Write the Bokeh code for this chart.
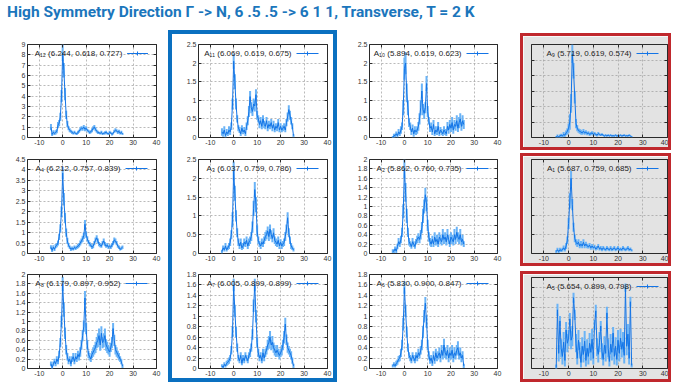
import numpy as np
from bokeh.plotting import figure
from bokeh.models import (Range1d, FixedTicker, PrintfTickFormatter, CustomJSTickFormatter,
                          LinearAxis, Label, Div)
from bokeh.layouts import column, row
from bokeh.embed import file_html
from bokeh.resources import INLINE

# ---------------- data ----------------
X = [-5, -4.5, -4, -3.5, -3, -2.5, -2, -1.5, -1, -0.5,
     0, 0.5, 1, 1.5, 2, 2.5, 3, 3.5, 4, 4.5,
     5, 5.5, 6, 6.5, 7, 7.5, 8, 8.5, 9, 9.5,
     10, 10.5, 11, 11.5, 12, 12.5, 13, 13.5, 14, 14.5,
     15, 15.5, 16, 16.5, 17, 17.5, 18, 18.5, 19, 19.5,
     20, 20.5, 21, 21.5, 22, 22.5, 23, 23.5, 24, 24.5,
     25, 25.5]

X_TICKS = [-10, 0, 10, 20, 30, 40]
TICKS_9 = [0, 1, 2, 3, 4, 5, 6, 7, 8, 9]
TICKS_6 = [0, 1, 2, 3, 4, 5, 6]
TICKS_45 = [0, 0.5, 1, 1.5, 2, 2.5, 3, 3.5, 4, 4.5]
TICKS_25 = [0, 0.5, 1, 1.5, 2, 2.5]
TICKS_2 = [0, 0.2, 0.4, 0.6, 0.8, 1, 1.2, 1.4, 1.6, 1.8, 2]
TICKS_18 = [0, 0.2, 0.4, 0.6, 0.8, 1, 1.2, 1.4, 1.6, 1.8]

TITLE = "High Symmetry Direction Γ -&gt; N, 6 .5 .5 -&gt; 6 1 1, Transverse, T = 2 K"

LAB_A12 = "A₁₂ (6.244, 0.618, 0.727)"
LAB_A11 = "A₁₁ (6.069, 0.619, 0.675)"
LAB_A10 = "A₁₀ (5.894, 0.619, 0.623)"
LAB_A9 = "A₉ (5.719, 0.619, 0.574)"
LAB_A4 = "A₄ (6.212, 0.757, 0.839)"
LAB_A3 = "A₃ (6.037, 0.759, 0.786)"
LAB_A2 = "A₂ (5.862, 0.760, 0.735)"
LAB_A1 = "A₁ (5.687, 0.759, 0.685)"
LAB_A8 = "A₈ (6.179, 0.897, 0.952)"
LAB_A7 = "A₇ (6.005, 0.899, 0.899)"
LAB_A6 = "A₆ (5.830, 0.900, 0.847)"
LAB_A5 = "A₅ (5.654, 0.899, 0.798)"

A12 = [1.0, 0.3, 0.5, 0.4, 0.5, 0.6, 1.2, 1.4, 2.0, 4.0,
       8.2, 6.5, 4.2, 2.2, 1.3, 0.9, 0.7, 0.6, 0.5, 0.4,
       0.5, 0.4, 0.35, 0.5, 0.6, 0.8, 0.9, 0.85, 1.0, 0.8,
       0.9, 0.7, 0.6, 0.5, 0.55, 0.7, 0.9, 1.0, 0.8, 0.6,
       0.5, 0.45, 0.4, 0.5, 0.35, 0.4, 0.45, 0.5, 0.4, 0.35,
       0.5, 0.45, 0.3, 0.4, 0.6, 0.7, 0.65, 0.5, 0.6, 0.4,
       0.5, 0.35]
E12 = [0.3, 0.15, 0.2, 0.15, 0.2, 0.2, 0.3, 0.3, 0.4, 0.6,
       0.8, 0.7, 0.6, 0.4, 0.3, 0.2, 0.2, 0.15, 0.15, 0.1,
       0.15, 0.1, 0.1, 0.15, 0.15, 0.2, 0.2, 0.2, 0.2, 0.2,
       0.2, 0.15, 0.15, 0.15, 0.15, 0.2, 0.2, 0.2, 0.2, 0.15,
       0.15, 0.1, 0.1, 0.15, 0.1, 0.1, 0.15, 0.15, 0.1, 0.1,
       0.15, 0.1, 0.1, 0.1, 0.15, 0.2, 0.15, 0.15, 0.15, 0.1,
       0.15, 0.1]

A11 = [0.15, 0.1, 0.2, 0.05, 0.15, 0.1, 0.2, 0.15, 0.3, 0.9,
       2.05, 1.5, 0.9, 0.5, 0.25, 0.2, 0.1, 0.25, 0.15, 0.2,
       0.1, 0.3, 0.45, 0.7, 1.1, 0.8, 0.7, 0.9, 0.85, 1.15,
       0.6, 0.5, 0.35, 0.45, 0.3, 0.5, 0.35, 0.3, 0.45, 0.25,
       0.35, 0.3, 0.4, 0.25, 0.35, 0.2, 0.3, 0.25, 0.4, 0.2,
       0.3, 0.2, 0.25, 0.3, 0.2, 0.4, 0.55, 0.75, 0.6, 0.45,
       0.3, 0.05]
E11 = [0.1, 0.08, 0.1, 0.05, 0.08, 0.06, 0.1, 0.08, 0.1, 0.15,
       0.2, 0.2, 0.15, 0.1, 0.08, 0.08, 0.06, 0.08, 0.06, 0.08,
       0.06, 0.1, 0.12, 0.15, 0.15, 0.15, 0.12, 0.15, 0.15, 0.15,
       0.12, 0.1, 0.1, 0.1, 0.08, 0.1, 0.1, 0.08, 0.1, 0.08,
       0.1, 0.08, 0.1, 0.08, 0.1, 0.06, 0.08, 0.08, 0.1, 0.06,
       0.08, 0.06, 0.08, 0.08, 0.06, 0.1, 0.12, 0.12, 0.12, 0.1,
       0.08, 0.04]

A10 = [0.0, 0.05, 0.05, 0.1, 0.05, 0.15, 0.1, 0.2, 0.3, 0.8,
       1.85, 2.0, 1.2, 0.8, 0.4, 0.3, 0.15, 0.25, 0.1, 0.2,
       0.15, 0.2, 0.3, 0.5, 0.8, 1.25, 0.75, 0.65, 0.8, 1.45,
       0.7, 0.45, 0.25, 0.3, 0.15, 0.35, 0.1, 0.2, 0.15, 0.3,
       0.1, 0.2, 0.15, 0.1, 0.2, 0.15, 0.1, 0.3, 0.2, 0.35,
       0.25, 0.4, 0.2, 0.35, 0.3, 0.45, 0.25, 0.4, 0.5, 0.3,
       0.45, 0.35]
E10 = [0.04, 0.05, 0.05, 0.06, 0.05, 0.08, 0.06, 0.1, 0.1, 0.2,
       0.3, 0.3, 0.25, 0.2, 0.12, 0.1, 0.08, 0.1, 0.08, 0.1,
       0.08, 0.1, 0.12, 0.15, 0.2, 0.2, 0.15, 0.15, 0.15, 0.2,
       0.15, 0.1, 0.1, 0.1, 0.08, 0.12, 0.06, 0.1, 0.08, 0.12,
       0.06, 0.08, 0.08, 0.06, 0.1, 0.08, 0.06, 0.12, 0.1, 0.12,
       0.1, 0.15, 0.1, 0.12, 0.12, 0.15, 0.1, 0.15, 0.15, 0.12,
       0.15, 0.12]

A9 = [0.05, 0.1, 0.05, 0.1, 0.15, 0.1, 0.2, 0.15, 0.3, 0.4,
      0.6, 1.0, 2.2, 5.4, 4.3, 2.6, 0.9, 0.6, 0.45, 0.4,
      0.35, 0.3, 0.4, 0.3, 0.35, 0.25, 0.3, 0.2, 0.25, 0.3,
      0.2, 0.25, 0.2, 0.15, 0.25, 0.2, 0.15, 0.2, 0.15, 0.1,
      0.15, 0.1, 0.15, 0.1, 0.15, 0.1, 0.12, 0.1, 0.15, 0.1,
      0.12, 0.1, 0.15, 0.1, 0.12, 0.15, 0.1, 0.12, 0.1, 0.15,
      0.1, 0.05]
E9 = [0.05, 0.1, 0.05, 0.1, 0.1, 0.1, 0.15, 0.1, 0.15, 0.2,
      0.3, 0.5, 0.6, 0.6, 0.5, 0.4, 0.3, 0.2, 0.15, 0.15,
      0.15, 0.12, 0.15, 0.12, 0.12, 0.1, 0.1, 0.1, 0.1, 0.1,
      0.08, 0.1, 0.08, 0.08, 0.1, 0.08, 0.06, 0.08, 0.06, 0.06,
      0.06, 0.05, 0.06, 0.05, 0.06, 0.05, 0.05, 0.05, 0.06, 0.05,
      0.05, 0.05, 0.06, 0.05, 0.05, 0.06, 0.05, 0.05, 0.05, 0.06,
      0.05, 0.04]

A4 = [0.3, 0.15, 0.3, 0.2, 0.35, 0.4, 0.5, 0.8, 1.2, 2.0,
      3.85, 2.6, 1.7, 1.0, 0.6, 0.4, 0.3, 0.2, 0.25, 0.2,
      0.3, 0.25, 0.3, 0.35, 0.4, 0.5, 0.6, 0.7, 0.85, 1.4,
      0.9, 0.7, 0.55, 0.45, 0.4, 0.3, 0.35, 0.5, 0.65, 0.75,
      0.6, 0.45, 0.4, 0.35, 0.5, 0.6, 0.45, 0.35, 0.4, 0.3,
      0.35, 0.3, 0.4, 0.5, 0.65, 0.6, 0.5, 0.35, 0.3, 0.2,
      0.25, 0.3]
E4 = [0.1, 0.08, 0.1, 0.08, 0.1, 0.1, 0.12, 0.15, 0.2, 0.25,
      0.3, 0.3, 0.25, 0.2, 0.15, 0.1, 0.08, 0.08, 0.08, 0.06,
      0.08, 0.08, 0.08, 0.1, 0.1, 0.12, 0.12, 0.15, 0.15, 0.2,
      0.15, 0.12, 0.1, 0.1, 0.1, 0.08, 0.1, 0.1, 0.12, 0.12,
      0.12, 0.1, 0.1, 0.08, 0.1, 0.12, 0.1, 0.08, 0.1, 0.08,
      0.08, 0.08, 0.1, 0.1, 0.12, 0.12, 0.1, 0.08, 0.08, 0.06,
      0.08, 0.08]

A3 = [0.05, 0.15, 0.1, 0.2, 0.1, 0.15, 0.2, 0.3, 0.5, 0.9,
      2.2, 1.6, 1.0, 0.55, 0.3, 0.2, 0.3, 0.15, 0.2, 0.3,
      0.25, 0.35, 0.2, 0.3, 0.35, 0.45, 0.7, 1.2, 1.7, 1.3,
      0.6, 0.35, 0.25, 0.2, 0.3, 0.25, 0.35, 0.45, 0.5, 0.6,
      0.45, 0.65, 0.5, 0.4, 0.55, 0.35, 0.3, 0.25, 0.35, 0.2,
      0.3, 0.2, 0.25, 0.3, 0.45, 0.65, 0.95, 0.55, 0.35, 0.2,
      0.15, 0.1]
E3 = [0.05, 0.06, 0.05, 0.08, 0.05, 0.06, 0.08, 0.1, 0.12, 0.2,
      0.25, 0.2, 0.15, 0.12, 0.1, 0.08, 0.1, 0.06, 0.08, 0.1,
      0.08, 0.1, 0.08, 0.1, 0.1, 0.12, 0.15, 0.2, 0.2, 0.2,
      0.15, 0.1, 0.08, 0.08, 0.1, 0.08, 0.1, 0.12, 0.12, 0.12,
      0.12, 0.12, 0.12, 0.1, 0.12, 0.1, 0.1, 0.08, 0.1, 0.08,
      0.08, 0.08, 0.08, 0.1, 0.12, 0.12, 0.15, 0.12, 0.1, 0.08,
      0.06, 0.05]

A2 = [0.05, 0.05, 0.1, 0.05, 0.15, 0.25, 0.2, 0.3, 0.45, 0.9,
      1.8, 1.3, 0.8, 0.45, 0.25, 0.2, 0.15, 0.25, 0.2, 0.15,
      0.25, 0.3, 0.35, 0.3, 0.4, 0.55, 0.8, 1.0, 1.25, 1.05,
      0.6, 0.35, 0.25, 0.2, 0.3, 0.2, 0.35, 0.25, 0.3, 0.2,
      0.35, 0.3, 0.25, 0.4, 0.3, 0.35, 0.25, 0.4, 0.3, 0.2,
      0.35, 0.3, 0.25, 0.4, 0.3, 0.45, 0.35, 0.3, 0.4, 0.25,
      0.3, 0.2]
E2 = [0.04, 0.04, 0.05, 0.04, 0.06, 0.08, 0.06, 0.08, 0.1, 0.15,
      0.2, 0.2, 0.15, 0.1, 0.08, 0.06, 0.05, 0.08, 0.06, 0.05,
      0.06, 0.08, 0.08, 0.08, 0.1, 0.12, 0.15, 0.15, 0.15, 0.15,
      0.12, 0.1, 0.08, 0.06, 0.08, 0.06, 0.1, 0.08, 0.1, 0.06,
      0.1, 0.1, 0.08, 0.12, 0.1, 0.1, 0.08, 0.12, 0.1, 0.06,
      0.1, 0.1, 0.08, 0.12, 0.1, 0.12, 0.1, 0.1, 0.12, 0.08,
      0.1, 0.06]

A1 = [0.05, 0.1, 0.05, 0.1, 0.08, 0.1, 0.15, 0.1, 0.2, 0.35,
      0.8, 1.4, 2.0, 1.3, 0.7, 0.4, 0.3, 0.25, 0.3, 0.2,
      0.25, 0.2, 0.3, 0.2, 0.25, 0.2, 0.18, 0.22, 0.15, 0.2,
      0.15, 0.18, 0.12, 0.15, 0.2, 0.12, 0.15, 0.1, 0.15, 0.12,
      0.1, 0.15, 0.12, 0.1, 0.15, 0.1, 0.12, 0.15, 0.1, 0.12,
      0.15, 0.1, 0.12, 0.1, 0.15, 0.12, 0.1, 0.12, 0.15, 0.1,
      0.12, 0.08]
E1 = [0.04, 0.05, 0.04, 0.05, 0.04, 0.05, 0.06, 0.05, 0.08, 0.1,
      0.15, 0.2, 0.2, 0.15, 0.12, 0.1, 0.08, 0.08, 0.08, 0.06,
      0.08, 0.06, 0.08, 0.06, 0.06, 0.06, 0.05, 0.06, 0.05, 0.05,
      0.05, 0.05, 0.04, 0.05, 0.05, 0.04, 0.05, 0.04, 0.05, 0.04,
      0.04, 0.05, 0.04, 0.04, 0.05, 0.04, 0.04, 0.05, 0.04, 0.04,
      0.05, 0.04, 0.04, 0.04, 0.05, 0.04, 0.04, 0.04, 0.05, 0.04,
      0.04, 0.03]

A8 = [0.1, 0.02, 0.1, 0.15, 0.1, 0.2, 0.15, 0.3, 0.55, 1.0,
      1.8, 1.25, 0.75, 0.4, 0.25, 0.15, 0.2, 0.1, 0.2, 0.25,
      0.15, 0.25, 0.2, 0.3, 0.25, 0.35, 0.5, 0.7, 0.9, 1.5,
      0.85, 0.5, 0.3, 0.25, 0.2, 0.3, 0.35, 0.4, 0.45, 0.55,
      0.6, 0.7, 0.5, 0.75, 0.55, 0.6, 0.7, 0.5, 0.45, 0.4,
      0.35, 0.45, 0.55, 0.85, 0.6, 0.4, 0.35, 0.3, 0.25, 0.2,
      0.15, 0.05]
E8 = [0.05, 0.03, 0.05, 0.06, 0.05, 0.06, 0.06, 0.08, 0.1, 0.12,
      0.15, 0.15, 0.12, 0.1, 0.08, 0.06, 0.06, 0.05, 0.06, 0.08,
      0.06, 0.08, 0.06, 0.08, 0.08, 0.1, 0.1, 0.12, 0.12, 0.15,
      0.12, 0.1, 0.08, 0.08, 0.06, 0.08, 0.1, 0.1, 0.12, 0.12,
      0.15, 0.15, 0.12, 0.15, 0.12, 0.15, 0.15, 0.12, 0.12, 0.1,
      0.1, 0.1, 0.12, 0.12, 0.12, 0.1, 0.1, 0.08, 0.08, 0.06,
      0.06, 0.04]

A7 = [0.05, 0.02, 0.08, 0.05, 0.1, 0.12, 0.15, 0.2, 0.35, 0.7,
      1.6, 1.1, 0.7, 0.4, 0.2, 0.15, 0.25, 0.1, 0.2, 0.15,
      0.25, 0.2, 0.15, 0.25, 0.3, 0.4, 0.65, 1.2, 1.6, 1.0,
      0.5, 0.3, 0.2, 0.25, 0.15, 0.3, 0.2, 0.3, 0.35, 0.45,
      0.5, 0.6, 0.45, 0.5, 0.4, 0.35, 0.3, 0.35, 0.3, 0.25,
      0.3, 0.35, 0.45, 0.6, 0.85, 0.55, 0.4, 0.35, 0.3, 0.25,
      0.15, 0.05]
E7 = [0.03, 0.02, 0.04, 0.03, 0.05, 0.05, 0.06, 0.06, 0.08, 0.1,
      0.12, 0.12, 0.1, 0.08, 0.06, 0.05, 0.06, 0.04, 0.06, 0.05,
      0.06, 0.06, 0.05, 0.06, 0.08, 0.08, 0.1, 0.12, 0.12, 0.12,
      0.1, 0.08, 0.06, 0.06, 0.05, 0.08, 0.06, 0.08, 0.08, 0.1,
      0.12, 0.12, 0.1, 0.12, 0.1, 0.1, 0.08, 0.1, 0.08, 0.08,
      0.08, 0.1, 0.1, 0.12, 0.12, 0.1, 0.1, 0.08, 0.08, 0.08,
      0.06, 0.04]

A6 = [0.05, 0.08, 0.05, 0.1, 0.12, 0.18, 0.2, 0.3, 0.45, 0.85,
      1.55, 1.1, 0.7, 0.4, 0.25, 0.2, 0.15, 0.25, 0.2, 0.15,
      0.25, 0.2, 0.3, 0.25, 0.35, 0.45, 0.7, 1.0, 1.25, 0.9,
      0.45, 0.25, 0.15, 0.2, 0.1, 0.25, 0.15, 0.3, 0.2, 0.25,
      0.3, 0.2, 0.35, 0.25, 0.45, 0.3, 0.25, 0.35, 0.2, 0.3,
      0.25, 0.35, 0.2, 0.3, 0.25, 0.35, 0.4, 0.25, 0.3, 0.2,
      0.25, 0.05]
E6 = [0.03, 0.04, 0.03, 0.05, 0.05, 0.06, 0.06, 0.08, 0.1, 0.12,
      0.12, 0.12, 0.1, 0.08, 0.06, 0.06, 0.05, 0.06, 0.06, 0.05,
      0.06, 0.06, 0.08, 0.06, 0.08, 0.1, 0.12, 0.12, 0.12, 0.12,
      0.1, 0.08, 0.06, 0.06, 0.05, 0.08, 0.06, 0.08, 0.06, 0.08,
      0.1, 0.08, 0.1, 0.08, 0.12, 0.1, 0.08, 0.1, 0.08, 0.1,
      0.08, 0.1, 0.08, 0.1, 0.08, 0.1, 0.12, 0.08, 0.1, 0.08,
      0.08, 0.04]

A5 = [0.1, 5.8, 1.5, 4.7, 2.0, 1.2, 2.6, 0.8, 3.8, 2.5,
      3.0, 4.9, 2.8, 3.2, 7.0, 5.3, 2.5, 1.0, 2.8, 1.8,
      0.6, 2.2, 1.4, 2.7, 0.8, 2.0, 1.2, 2.5, 1.6, 2.9,
      1.0, 4.3, 5.7, 2.1, 1.4, 2.6, 4.2, 1.7, 0.9, 2.3,
      1.5, 5.5, 2.0, 0.7, 2.4, 1.6, 3.5, 1.2, 2.2, 0.9,
      2.8, 1.5, 3.0, 1.9, 2.6, 1.3, 8.0, 2.2, 3.4, 1.0,
      6.6, 0.3]
E5 = [0.3, 0.6, 0.8, 0.5, 0.9, 0.8, 1.0, 0.6, 0.8, 0.9,
      0.8, 0.6, 0.9, 1.0, 0.5, 0.5, 0.9, 0.6, 1.0, 0.8,
      0.5, 0.9, 0.8, 1.0, 0.6, 0.9, 0.8, 1.0, 0.8, 1.0,
      0.6, 0.5, 0.6, 0.9, 0.8, 1.0, 0.5, 0.8, 0.6, 0.9,
      0.8, 0.6, 0.9, 0.5, 1.0, 0.8, 0.6, 0.8, 0.9, 0.6,
      1.0, 0.8, 0.9, 0.8, 1.0, 0.8, 0.4, 0.9, 1.0, 0.6,
      0.5, 0.2]

# ---------------- styling ----------------
LINE = "#1374e6"
ERR = "#6ab3f6"
TICK_FONT = "Liberation Sans"
BLANK = "return ''"
BLUE_BOX = "#0a70c0"
RED_BOX = "#c0282d"
GRAY = "#e3e3e3"


def panel(label, vals, errs, yticks, w, h, bl, br, bt, bb, gray=False, hide_y=False):
    ymax = yticks[-1]
    p = figure(width=w, height=h, x_range=Range1d(-15, 40), y_range=Range1d(0, ymax),
               output_backend="svg", toolbar_location=None, tools="",
               min_border_left=bl, min_border_right=br, min_border_top=bt, min_border_bottom=bb,
               margin=(0, 0, 0, 0))
    bg = GRAY if gray else "white"
    p.background_fill_color = bg
    p.border_fill_color = bg
    p.outline_line_color = "#2a2a2a"
    p.outline_line_width = 1

    v = np.array(vals, dtype=float)
    e = np.array(errs, dtype=float)
    p.segment(x0=X, y0=v - e, x1=X, y1=v + e, line_color=ERR, line_width=2)
    p.line(X, v, line_color=LINE, line_width=1)

    p.xaxis.ticker = FixedTicker(ticks=X_TICKS)
    p.yaxis.ticker = FixedTicker(ticks=yticks)
    p.xaxis.formatter = PrintfTickFormatter(format="%.3g")
    if hide_y:
        p.yaxis.formatter = CustomJSTickFormatter(code=BLANK)
    else:
        p.yaxis.formatter = PrintfTickFormatter(format="%.3g")
    for ax in (p.xaxis[0], p.yaxis[0]):
        ax.axis_line_color = None
        ax.major_tick_in = 3
        ax.major_tick_out = 0
        ax.minor_tick_line_color = None
        ax.major_tick_line_color = "#2a2a2a"
        ax.major_label_text_font = TICK_FONT
        ax.major_label_text_font_size = "7px"
        ax.major_label_text_color = "#333333"
        ax.major_label_standoff = 2
    # mirrored ticks on top/right like gnuplot
    for loc, tk in (("above", X_TICKS), ("right", yticks)):
        ax = LinearAxis(ticker=FixedTicker(ticks=tk), formatter=CustomJSTickFormatter(code=BLANK),
                        axis_line_color=None, major_tick_in=3, major_tick_out=0,
                        minor_tick_line_color=None, major_tick_line_color="#2a2a2a",
                        major_label_standoff=0, major_label_text_font_size="1px")
        p.add_layout(ax, loc)

    p.xgrid.ticker = FixedTicker(ticks=X_TICKS)
    p.ygrid.ticker = FixedTicker(ticks=yticks)
    p.grid.grid_line_color = "#9c9c9c"
    p.grid.grid_line_dash = "2 2"
    p.grid.grid_line_width = 0.7

    # legend (gnuplot style: text then sample on the right)
    fw = w - bl - br
    fh = h - bt - bb
    ux = 55.0 / fw
    uy = ymax / fh
    yl = ymax - 9 * uy
    p.add_layout(Label(x=40 - 36 * ux, y=yl, text=label, text_align="right",
                       text_baseline="middle", text_font=TICK_FONT, text_font_size="8px",
                       text_color="#222222"))
    p.line([40 - 31 * ux, 40 - 9 * ux], [yl, yl], line_color=LINE, line_width=1)
    p.segment(x0=[40 - 20 * ux], y0=[yl - 2 * uy], x1=[40 - 20 * ux], y1=[yl + 2 * uy],
              line_color=LINE, line_width=1)
    return p


def bar(w, h, color=None):
    st = {"background-color": color} if color else {}
    return Div(text="", width=w, height=h, margin=(0, 0, 0, 0), styles=st)


def red_box(fig, w, h):
    return column(bar(w + 6, 3, RED_BOX),
                  row(bar(3, h, RED_BOX), fig, bar(3, h, RED_BOX), spacing=0),
                  bar(w + 6, 3, RED_BOX), spacing=0)


# column 1  (rows: figure tops at 30, 148, 265)
p12 = panel(LAB_A12, A12, E12, TICKS_9, 168, 118, 20, 12, 14, 11)
p4 = panel(LAB_A4, A4, E4, TICKS_45, 168, 117, 27, 12, 11, 12)
p8 = panel(LAB_A8, A8, E8, TICKS_2, 168, 117, 27, 12, 9, 14)
# column 2 (inside blue box: 168..337 x 30..382)
p11 = panel(LAB_A11, A11, E11, TICKS_25, 161, 114, 26, 6, 10, 11)
p3 = panel(LAB_A3, A3, E3, TICKS_25, 161, 117, 26, 6, 11, 12)
p7 = panel(LAB_A7, A7, E7, TICKS_18, 161, 113, 26, 6, 9, 10)
# column 3
p10 = panel(LAB_A10, A10, E10, TICKS_25, 183, 118, 32, 23, 14, 11)
p2 = panel(LAB_A2, A2, E2, TICKS_2, 183, 117, 32, 23, 11, 12)
p6 = panel(LAB_A6, A6, E6, TICKS_18, 183, 117, 32, 23, 9, 14)
# column 4 (red boxes, grey background)
p9 = panel(LAB_A9, A9, E9, TICKS_6, 145, 111, 8, 1, 8, 10, gray=True, hide_y=True)
p1 = panel(LAB_A1, A1, E1, TICKS_25, 145, 107, 8, 1, 3, 10, gray=True, hide_y=True)
p5 = panel(LAB_A5, A5, E5, TICKS_9, 145, 105, 8, 1, 3, 11, gray=True, hide_y=True)

c1 = column(p12, p4, p8, spacing=0)
inner2 = column(p11, p3, p7, spacing=0)
c2 = column(bar(169, 4, BLUE_BOX),
            row(bar(4, 344, BLUE_BOX), inner2, bar(4, 344, BLUE_BOX), spacing=0),
            bar(169, 4, BLUE_BOX), spacing=0)
c3 = column(p10, p2, p6, spacing=0)
c4 = column(bar(151, 3), red_box(p9, 145, 111),
            bar(151, 3), red_box(p1, 145, 107),
            bar(151, 5), red_box(p5, 145, 105), spacing=0)

title = Div(text='<div style="font-family:\'Liberation Sans Narrow\',\'Roboto\',sans-serif;'
                 'font-weight:bold;font-size:15.5px;color:#1b76bc;white-space:nowrap;'
                 'line-height:18px;padding:3px 0 0 7px">' + TITLE + '</div>',
            width=672, height=30, margin=(0, 0, 0, 0))

root = column(title, row(c1, c2, c3, c4, spacing=0), spacing=0)

open("out.html", "w").write(file_html(root, INLINE))
